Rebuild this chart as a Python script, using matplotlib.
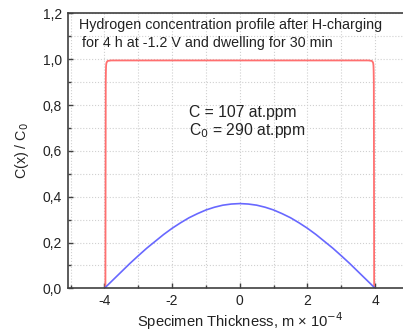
import matplotlib
matplotlib.use("Agg")
import matplotlib.pyplot as plt
from matplotlib.ticker import MultipleLocator, FuncFormatter

plt.rcParams['font.family'] = ['Liberation Sans', 'DejaVu Sans']

# Blue profile (after dwelling)
blue_x = [-4.0, -3.75, -3.5, -3.25, -3.0, -2.75, -2.5, -2.25, -2.0, -1.75, -1.5, -1.25,
          -1.0, -0.75, -0.5, -0.25, 0.0, 0.25, 0.5, 0.75, 1.0, 1.25, 1.5, 1.75, 2.0,
          2.25, 2.5, 2.75, 3.0, 3.25, 3.5, 3.75, 4.0]
blue_y = [0.0, 0.036, 0.072, 0.108, 0.142, 0.175, 0.205, 0.235, 0.262, 0.286, 0.308, 0.326,
          0.342, 0.354, 0.363, 0.368, 0.370, 0.368, 0.363, 0.354, 0.342, 0.326, 0.308, 0.286,
          0.262, 0.235, 0.205, 0.175, 0.142, 0.108, 0.072, 0.036, 0.0]

# Red profile (after charging)
red_x = [-3.97, -3.965, -3.96, -3.955, -3.95, -3.94, -3.92, -3.9, -3.85, -3.8, 0.0,
         3.8, 3.85, 3.9, 3.92, 3.94, 3.95, 3.955, 3.96, 3.965, 3.97]
red_y = [0.0, 0.5, 0.9, 0.95, 0.972, 0.984, 0.99, 0.993, 0.994, 0.995, 0.995,
         0.995, 0.994, 0.993, 0.99, 0.984, 0.972, 0.95, 0.9, 0.5, 0.0]

title_lines = ["Hydrogen concentration profile after H-charging",
               "for 4 h at -1.2 V and dwelling for 30 min"]
conc_lines = ["C = 107 at.ppm", "C$_0$ = 290 at.ppm"]

fig = plt.figure(figsize=(4.03, 3.34), dpi=100)
ax = fig.add_axes([0.1675, 0.1368, 0.855, 0.8228])

ax.plot(red_x, red_y, color='#ff7070', lw=1.3)
ax.plot(blue_x, blue_y, color='#6868ff', lw=1.2)

ax.set_xlim(-5.09, 5.09)
ax.set_ylim(0.0, 1.2)
ax.xaxis.set_major_locator(MultipleLocator(2))
ax.xaxis.set_minor_locator(MultipleLocator(1))
ax.yaxis.set_major_locator(MultipleLocator(0.2))
ax.yaxis.set_minor_locator(MultipleLocator(0.1))
ax.yaxis.set_major_formatter(FuncFormatter(lambda v, p: f"{v:.1f}".replace('.', ',')))
ax.xaxis.set_major_formatter(FuncFormatter(lambda v, p: f"{int(round(v))}"))

ax.grid(True, which='both', color='#d0d0d0', ls=':', lw=0.8)
ax.set_axisbelow(True)
ax.tick_params(which='both', direction='in', colors='#404040', labelcolor='#222222',
               labelsize=10, top=False, right=False)
ax.tick_params(which='major', length=3.6, width=1.0, pad=4)
ax.tick_params(which='minor', length=2.2, width=1.0)
for s in ax.spines.values():
    s.set_color('#404040')
    s.set_linewidth(1.2)

ax.set_xlabel("Specimen Thickness, m \u00d7 10$^{-4}$", fontsize=10.6, color='#222222', labelpad=2)
ax.set_ylabel("C(x) / C$_0$", fontsize=10.3, color='#222222', labelpad=8)

def px(xp, yp):
    return fig.transFigure.inverted().transform((xp, 334 - yp))

tx, ty = px(79, 25)
fig.text(tx, ty, title_lines[0], fontsize=10.3, color='#222222', ha='left', va='center')
tx, ty = px(82, 43)
fig.text(tx, ty, title_lines[1], fontsize=10.3, color='#222222', ha='left', va='center')
tx, ty = px(189, 113)
fig.text(tx, ty, conc_lines[0], fontsize=11.3, color='#222222', ha='left', va='center')
tx, ty = px(189, 131)
fig.text(tx, ty, conc_lines[1], fontsize=11.3, color='#222222', ha='left', va='center')

fig.savefig("out.png", dpi=100)
